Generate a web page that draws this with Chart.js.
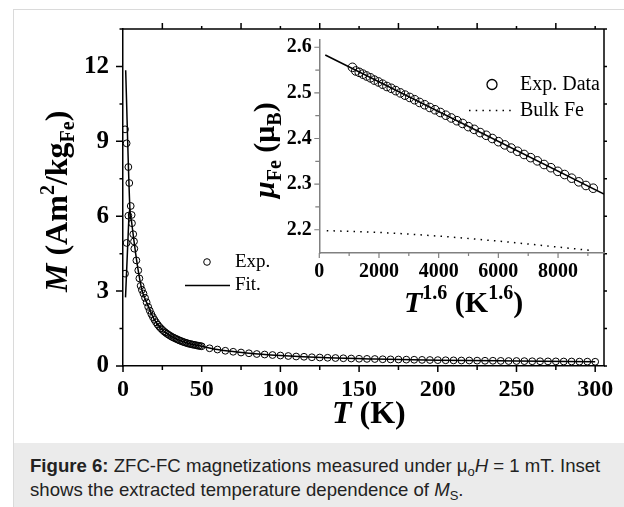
<!DOCTYPE html>
<html>
<head>
<meta charset="utf-8">
<script src="https://cdn.jsdelivr.net/npm/chart.js@4.4.1/dist/chart.umd.min.js"></script>
<style>
  html, body { margin: 0; padding: 0; background: #fff; }
  body { width: 624px; height: 507px; position: relative; overflow: hidden; font-family: "Liberation Serif", serif; }
  #frame { position: absolute; left: 13px; top: 9px; width: 640px; height: 520px; border: 1px solid #dadada; box-sizing: border-box; }
  #main { position: absolute; left: 0; top: 0; }
  #inset { position: absolute; left: 230px; top: 20px; }
  .t { position: absolute; white-space: nowrap; font-weight: bold; color: #000; font-size: 32px; line-height: 32px; }
  .t .sup { font-size: 20px; position: relative; top: -13px; }
  .t .sub { font-size: 20px; position: relative; top: 7px; }
  .rot { transform: rotate(-90deg); transform-origin: 0 0; }
  #caption { position: absolute; left: 14px; top: 443px; width: 610px; height: 64px; background: #ebebeb;
    font-family: "Liberation Sans", Arial, sans-serif; font-size: 18.6px; line-height: 24px; color: #222;
    padding: 11px 0 0 16px; box-sizing: border-box; }
  #caption sub { font-size: 13px; position: relative; top: 4px; vertical-align: baseline; line-height: 0; }
</style>
</head>
<body>
<div id="frame"></div>
<canvas id="main" width="624" height="443"></canvas>
<canvas id="inset" width="394" height="270"></canvas>

<div class="t rot" style="left:40px;top:292px"><i>M</i> (Am<span class="sup">2</span>/kg<span class="sub">Fe</span>)</div>
<div class="t" style="left:332px;top:396px"><i>T</i> (K)</div>
<div class="t rot" style="left:249px;top:198px;font-size:30px;line-height:30px"><i>μ</i><span class="sub">Fe</span> (μ<span class="sub">B</span>)</div>
<div class="t" style="left:404px;top:287px;font-size:30px;line-height:30px"><i>T</i><span class="sup">1.6</span> (K<span class="sup">1.6</span>)</div>

<div id="caption"><b>Figure 6:</b> ZFC-FC magnetizations measured under μ<sub>o</sub><i>H</i> = 1 mT. Inset<br>shows the extracted temperature dependence of <i>M</i><sub>S</sub>.</div>

<script>
// main panel: M (Am2/kgFe) vs T (K)
const fcT = [1.3, 2.3, 3.4, 4.0, 4.9, 5.5, 5.7, 6.5, 7.0, 7.2, 8.5, 9.7, 10.4, 11.2,
  12, 13, 14, 15, 16, 17, 18, 19, 20, 21, 22, 23, 24, 25, 26, 27, 28, 29, 30,
  31, 32, 33, 34, 35, 36, 37, 38, 39, 40, 41, 42, 43, 44, 45, 46, 47, 48, 49, 50,
  55, 60, 65, 70, 75, 80, 85, 90, 95, 100, 105, 110, 115, 120, 125, 130, 135, 140, 145, 150,
  155, 160, 165, 170, 175, 180, 185, 190, 195, 200, 205, 210, 215, 220, 225, 230, 235, 240, 245, 250,
  255, 260, 265, 270, 275, 280, 285, 290, 295, 300];
const fcM = [9.48, 8.92, 7.97, 7.33, 6.41, 6.05, 5.72, 5.28, 4.99, 4.70, 4.23, 3.83, 3.51, 3.21,
  3.05, 2.90, 2.73, 2.55, 2.37, 2.22, 2.08, 1.96, 1.85, 1.75, 1.66, 1.58, 1.51, 1.45, 1.39, 1.34, 1.29, 1.25, 1.21,
  1.17, 1.14, 1.11, 1.08, 1.05, 1.02, 1.00, 0.97, 0.95, 0.93, 0.91, 0.89, 0.88, 0.86, 0.85, 0.84, 0.82, 0.81, 0.80, 0.79,
  0.71, 0.66, 0.61, 0.57, 0.54, 0.51, 0.48, 0.46, 0.44, 0.42, 0.40, 0.38, 0.37, 0.35, 0.34, 0.33, 0.32, 0.31, 0.30, 0.29,
  0.285, 0.28, 0.27, 0.265, 0.26, 0.255, 0.25, 0.245, 0.24, 0.235, 0.23, 0.225, 0.22, 0.22, 0.215, 0.21, 0.21, 0.205, 0.20, 0.20,
  0.195, 0.19, 0.19, 0.185, 0.185, 0.18, 0.18, 0.175, 0.175, 0.17];
const zfcT = [1.3, 2.3, 3.4];
const zfcM = [3.70, 4.93, 6.02];
const fitT = [1.7, 4.4, 5.5, 7, 8.5, 10, 12, 15, 20, 25, 30, 40, 50, 60, 80, 100, 130, 160, 200, 250, 300];
const fitM = [11.85, 6.3, 5.75, 5.0, 4.3, 3.7, 3.05, 2.55, 1.85, 1.45, 1.21, 0.93, 0.79, 0.66, 0.51, 0.42, 0.33, 0.28, 0.235, 0.20, 0.17];
const zfcFitT = [1.6, 3.8, 4.4];
const zfcFitM = [2.75, 6.05, 6.3];
const mainXTicks = [0, 50, 100, 150, 200, 250, 300];
const mainYTicks = [0, 3, 6, 9, 12];

// inset: muFe (muB) vs T^1.6
const insetX = [1110, 1223, 1340, 1461, 1585, 1714, 1846, 1982, 2122, 2265, 2411, 2561, 2715, 2872, 3032,
  3195, 3361, 3530, 3703, 3878, 4057, 4239, 4423, 4611, 4802, 4996, 5192, 5391, 5593, 5798,
  6005, 6216, 6428, 6644, 6862, 7083, 7306, 7532, 7760, 7993, 8220, 8456, 8694, 8935, 9179];
const insetMu = [2.556, 2.548, 2.545, 2.541, 2.537, 2.533, 2.528, 2.524, 2.519, 2.514, 2.510, 2.505, 2.500, 2.495, 2.490,
  2.485, 2.479, 2.474, 2.468, 2.463, 2.457, 2.451, 2.445, 2.439, 2.433, 2.426, 2.420, 2.413, 2.407, 2.400,
  2.393, 2.386, 2.379, 2.372, 2.365, 2.358, 2.351, 2.343, 2.336, 2.328, 2.321, 2.313, 2.305, 2.297, 2.291];
const insetFitX = [200, 9540];
const insetFitMu = [2.583, 2.278];
const bulkX = [250, 2000, 4000, 6000, 8000, 9180];
const bulkMu = [2.198, 2.194, 2.186, 2.175, 2.162, 2.154];
const insetXTicks = [0, 2000, 4000, 6000, 8000];
const insetYTicks = [2.2, 2.3, 2.4, 2.5, 2.6];

const serif = "'Liberation Serif', 'Times New Roman', serif";
const pts = (xs, ys) => xs.map((x, i) => ({ x, y: ys[i] }));
const useTicks = (list) => (s) => { s.ticks = list.map((v) => ({ value: v })); };

function tick(ctx, x0, y0, x1, y1) { ctx.moveTo(x0, y0); ctx.lineTo(x1, y1); }

const mainDeco = {
  id: "mainDeco",
  afterDraw(chart) {
    const { ctx, chartArea: a, scales: { x, y } } = chart;
    ctx.save();
    ctx.strokeStyle = "#000";
    ctx.lineWidth = 1.5;
    ctx.beginPath();
    ctx.moveTo(a.left, a.top); ctx.lineTo(a.right, a.top); ctx.lineTo(a.right, a.bottom);
    for (let v = 0; v <= 300; v += 25) {
      const px = x.getPixelForValue(v);
      tick(ctx, px, a.bottom, px, a.bottom + (v % 50 ? 4 : 6));
      if (v > 0) tick(ctx, px, a.top, px, a.top - (v % 50 ? 6 : 3));
    }
    for (let v = 0; v <= 13.5; v += 1.5) {
      const py = y.getPixelForValue(v);
      tick(ctx, a.left, py, a.left - (v % 3 ? 3.5 : 7), py);
      tick(ctx, a.right, py, a.right + 3, py);
    }
    ctx.stroke();

    // legend
    const lx = a.left + 62, ly = a.top + 233;
    ctx.lineWidth = 1;
    ctx.beginPath();
    ctx.arc(lx + 22, ly, 3.3, 0, Math.PI * 2);
    ctx.stroke();
    ctx.lineWidth = 1.5;
    ctx.beginPath();
    ctx.moveTo(lx, ly + 23.5); ctx.lineTo(lx + 45, ly + 23.5);
    ctx.stroke();
    ctx.fillStyle = "#000";
    ctx.font = `19px ${serif}`;
    ctx.textBaseline = "middle";
    ctx.fillText("Exp.", lx + 50, ly);
    ctx.fillText("Fit.", lx + 50, ly + 23);
    ctx.restore();
  },
};

const insetDeco = {
  id: "insetDeco",
  afterDraw(chart) {
    const { ctx, chartArea: a, scales: { x, y } } = chart;
    ctx.save();
    ctx.strokeStyle = "#808080";
    ctx.lineWidth = 1.2;
    ctx.beginPath();
    for (let v = 0; v <= 9000; v += 1000) {
      const px = x.getPixelForValue(v);
      tick(ctx, px, a.bottom, px, a.bottom + (v % 2000 ? 3 : 5));
    }
    for (let i = 0; i <= 8; i++) {
      const v = 2.2 + i * 0.05;
      const py = y.getPixelForValue(v);
      tick(ctx, a.left, py, a.left - (i % 2 ? 4 : 5), py);
    }
    ctx.stroke();

    // legend
    const lx = a.right - 135, ly = a.top + 45;
    ctx.strokeStyle = "#000";
    ctx.lineWidth = 1.3;
    ctx.beginPath();
    ctx.arc(lx + 23, ly, 5, 0, Math.PI * 2);
    ctx.stroke();
    ctx.lineWidth = 1.5;
    ctx.setLineDash([1.5, 5.2]);
    ctx.beginPath();
    ctx.moveTo(lx, ly + 26); ctx.lineTo(lx + 45, ly + 26);
    ctx.stroke();
    ctx.setLineDash([]);
    ctx.fillStyle = "#000";
    ctx.font = `20px ${serif}`;
    ctx.textBaseline = "middle";
    ctx.fillText("Exp. Data", lx + 51, ly);
    ctx.fillText("Bulk Fe", lx + 51, ly + 26);
    ctx.restore();
  },
};

const tickFont = (size) => ({ family: serif, weight: "bold", size });
const noGrid = { display: false, drawTicks: false };

new Chart(document.getElementById("main"), {
  type: "scatter",
  data: {
    datasets: [
      { label: "Fit.", data: pts(fitT, fitM), showLine: true, borderColor: "#000", borderWidth: 1.5,
        pointRadius: 0, cubicInterpolationMode: "monotone" },
      { label: "Fit. ZFC", data: pts(zfcFitT, zfcFitM), showLine: true, borderColor: "#000", borderWidth: 1.5,
        pointRadius: 0 },
      { label: "Exp.", data: pts(fcT, fcM), borderColor: "#000", backgroundColor: "rgba(0,0,0,0)",
        pointRadius: 3.4, pointBorderWidth: 1 },
      { label: "Exp. ZFC", data: pts(zfcT, zfcM), borderColor: "#000", backgroundColor: "rgba(0,0,0,0)",
        pointRadius: 3.4, pointBorderWidth: 1 },
    ],
  },
  options: {
    responsive: false, animation: false, devicePixelRatio: 1,
    layout: { padding: { top: 25, right: 20, left: 0, bottom: 0 } },
    plugins: { legend: { display: false }, tooltip: { enabled: false } },
    scales: {
      x: {
        type: "linear", min: 0, max: 305.6,
        afterBuildTicks: useTicks(mainXTicks),
        afterFit: (s) => { s.height = 77; },
        grid: noGrid,
        border: { display: true, color: "#000", width: 1.5 },
        ticks: { font: tickFont(24), color: "#000", padding: 9, maxRotation: 0 },
      },
      y: {
        type: "linear", min: 0, max: 13.5,
        afterBuildTicks: useTicks(mainYTicks),
        afterFit: (s) => { s.width = 123; },
        grid: noGrid,
        border: { display: true, color: "#000", width: 1.5 },
        ticks: { font: tickFont(25), color: "#000", padding: 14 },
      },
    },
  },
  plugins: [mainDeco],
});

new Chart(document.getElementById("inset"), {
  type: "scatter",
  data: {
    datasets: [
      { label: "Fit", data: pts(insetFitX, insetFitMu), showLine: true, borderColor: "#000", borderWidth: 1.5, pointRadius: 0 },
      { label: "Exp. Data", data: pts(insetX, insetMu), borderColor: "#000", backgroundColor: "rgba(0,0,0,0)",
        pointRadius: 4.3, pointBorderWidth: 1 },
      { label: "Bulk Fe", data: pts(bulkX, bulkMu), showLine: true, borderColor: "#000", borderWidth: 1.5,
        borderDash: [1.5, 5.2], pointRadius: 0, cubicInterpolationMode: "monotone" },
    ],
  },
  options: {
    responsive: false, animation: false, devicePixelRatio: 1,
    layout: { padding: { top: 17, right: 20, left: 0, bottom: 0 } },
    plugins: { legend: { display: false }, tooltip: { enabled: false } },
    scales: {
      x: {
        type: "linear", min: 0, max: 9540,
        afterBuildTicks: useTicks(insetXTicks),
        afterFit: (s) => { s.height = 37; },
        grid: noGrid,
        border: { display: true, color: "#808080", width: 1.5 },
        ticks: { font: tickFont(20), color: "#000", padding: 7, maxRotation: 0, callback: (v) => String(v) },
      },
      y: {
        type: "linear", min: 2.149, max: 2.617,
        afterBuildTicks: useTicks(insetYTicks),
        afterFit: (s) => { s.width = 89.3; },
        grid: noGrid,
        border: { display: true, color: "#808080", width: 1.5 },
        ticks: { font: tickFont(20), color: "#000", padding: 7.5, callback: (v) => v.toFixed(1) },
      },
    },
  },
  plugins: [insetDeco],
});
</script>
</body>
</html>
